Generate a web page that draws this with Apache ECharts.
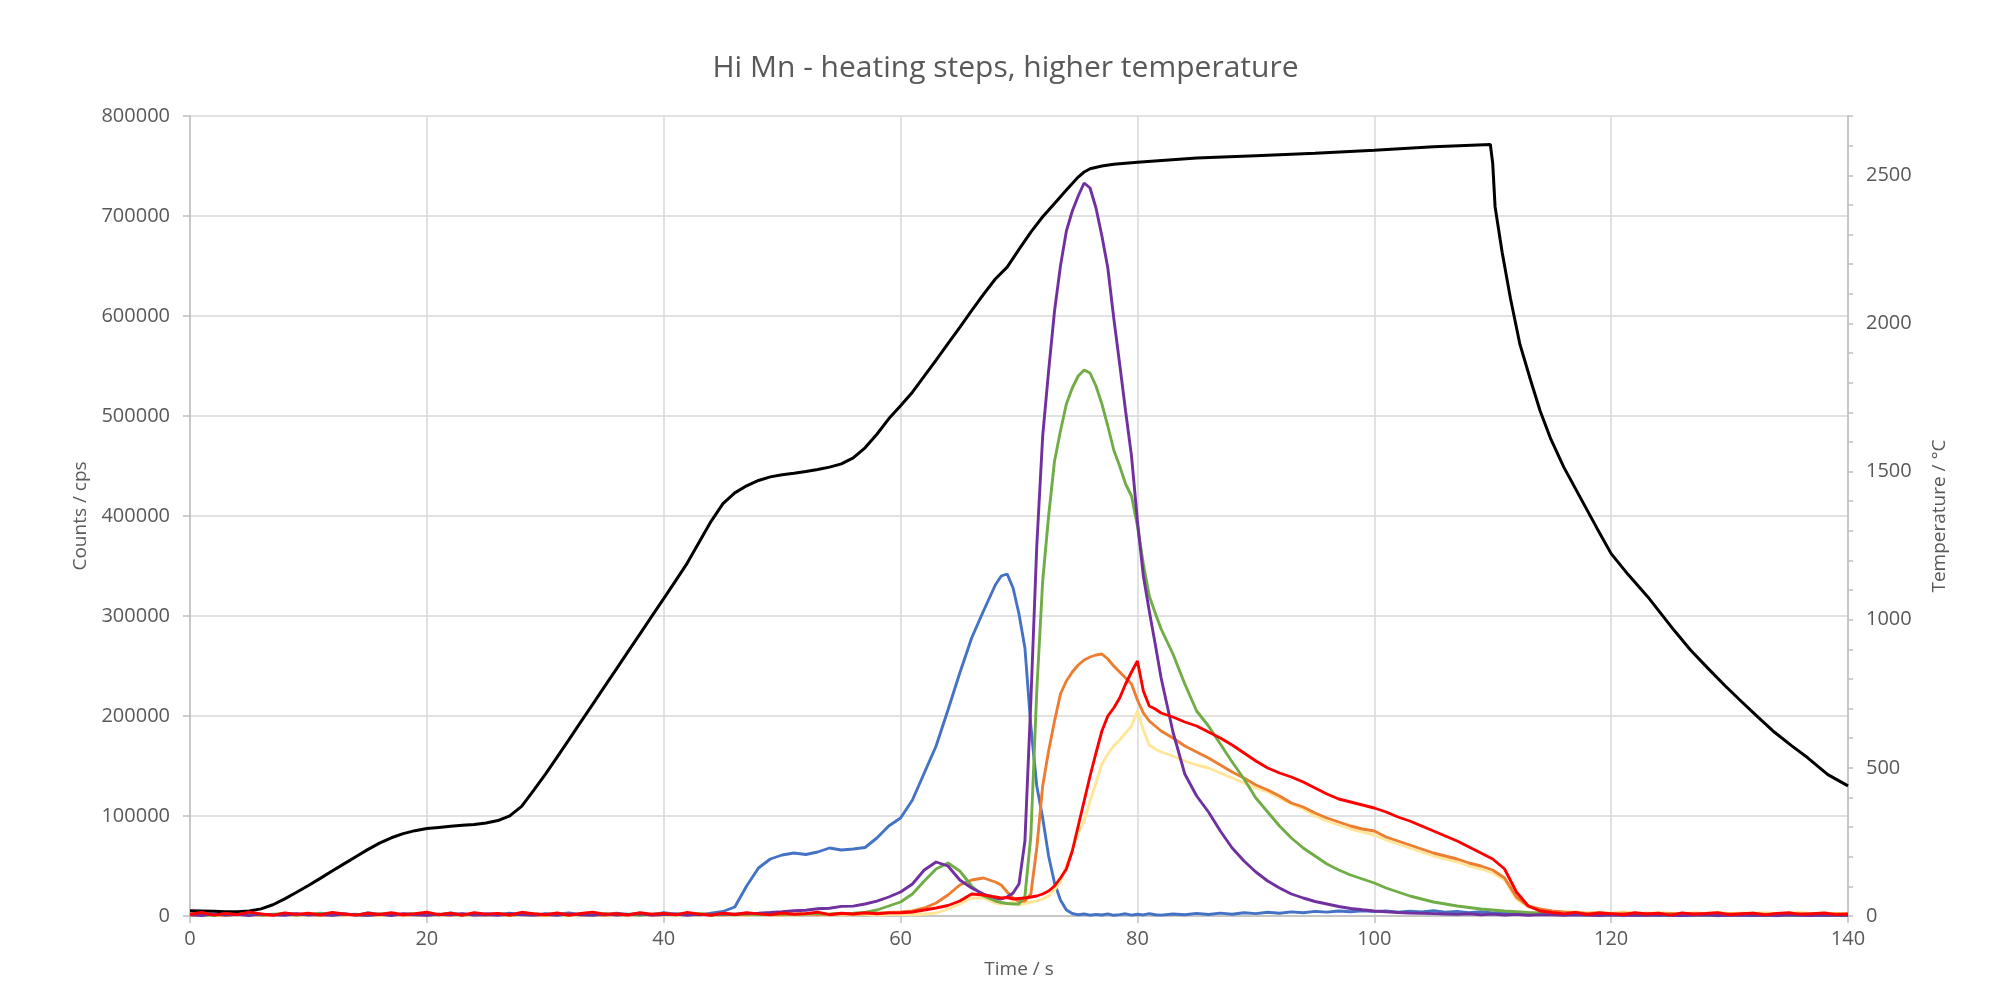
<!DOCTYPE html>
<html>
<head>
<meta charset="utf-8">
<script src="https://cdn.jsdelivr.net/npm/echarts@6/dist/echarts.min.js"></script>
<style>
html,body{margin:0;padding:0;background:#fff;}
#chart{width:2011px;height:982px;}
</style>
</head>
<body>
<div id="chart"></div>
<script>
// ---- Data ----
const chartTitle = 'Hi Mn - heating steps, higher temperature';
const xAxisName = 'Time / s';
const yAxisName = 'Counts / cps';
const y2AxisName = 'Temperature / °C';

// common time base for the count series (s)
const time_s = [0,1,2,3,4,5,6,7,8,9,10,11,12,13,14,15,16,17,18,19,20,21,22,23,24,25,26,27,28,29,30,31,32,33,34,35,36,37,38,39,40,41,42,43,44,45,46,47,48,49,50,51,52,53,54,55,56,57,58,59,60,61,62,63,64,65,66,67,
68,68.5,69,69.5,70,70.5,71,71.5,72,72.5,73,73.5,74,74.5,75,75.5,76,76.5,77,77.5,78,78.5,79,79.5,80,80.5,81,81.5,82,
83,84,85,86,87,88,89,90,91,92,93,94,95,96,97,98,99,100,101,102,103,104,105,106,107,108,109,110,111,112,113,114,115,116,117,118,119,120,121,122,123,124,125,126,127,128,129,130,131,132,133,134,135,136,137,138,139,140];

const blue = [1500,2800,900,2200,1100,3000,1400,600,2500,1800,
800,2900,1200,2000,700,3200,1500,2300,900,1700,
2600,1000,3100,1400,800,2200,1600,2900,1100,600,
2400,1800,3000,1200,2100,900,2700,1500,2000,1100,
3300,1700,2500,1000,2800,4500,9000,30000,48000,57000,
61000,63000,61500,64000,68000,66000,67000,68500,78000,90000,
98000,116000,143000,170000,206000,243000,278000,305000,
331000,340000,342000,328000,302000,268000,190000,130000,98000,60000,33000,16000,6000,2500,1200,2000,800,1600,1000,2100,700,1400,2200,900,1800,1100,2400,1300,900,
2000,1200,2600,1500,2900,1800,3200,2400,3800,2700,
4100,3300,4600,3900,5000,4200,5300,4400,5100,3900,
4800,4000,5200,3700,4500,3400,4200,3100,3800,2600,
3000,1900,2400,1300,1800,900,1500,800,1300,600,
1100,500,1000,700,1200,400,900,600,1100,500,
800,300,900,600,1000,400,700,500];

const purple = [1200,500,2100,900,1600,400,1900,1100,700,2300,
1000,1500,600,2000,1300,800,1700,500,2200,1200,
700,1800,1100,2400,900,1400,600,2000,1300,1000,
1700,800,2100,1200,600,1900,1000,1500,2200,900,
1400,2000,700,1600,1200,2300,1800,2600,2900,3500,
4200,5200,5800,7300,7800,9600,9900,12000,14800,19000,
24000,32000,46000,54000,50000,36000,28000,22000,
18000,17000,19000,23000,32000,75000,215000,370000,480000,545000,605000,650000,685000,705000,720000,733000,728000,708000,680000,648000,598000,552000,505000,460000,395000,340000,305000,272000,238000,
184000,142000,120000,104000,85000,68000,55000,44000,35000,28000,
22000,18000,14500,12000,9500,7500,6200,5000,4200,3500,
3000,2800,2400,2000,1600,2200,1300,1900,1000,1600,
800,1400,1100,700,1300,900,500,1200,800,1000,
600,1100,700,400,900,1200,500,800,1000,600,
900,400,1100,700,500,900,600,800];

const green = [2100,1300,800,1900,1500,2400,1000,1700,2200,900,
1600,2500,1100,1800,1400,800,2000,1200,1700,2300,
1000,1500,2100,800,1900,1300,2200,1000,1600,2400,
1200,1800,900,2000,1400,2300,1100,1700,800,1900,
2200,1300,1600,2400,1000,1800,1300,2100,1500,1900,
2300,1600,2000,2600,1800,2400,2900,3500,6000,10000,
14000,22000,35000,47000,53000,45000,30000,20000,
15000,13500,12500,12000,12000,20000,80000,225000,335000,400000,455000,485000,512000,528000,540000,546000,543000,530000,512000,490000,466000,450000,432000,420000,390000,352000,320000,303000,287000,
262000,232000,205000,190000,172000,154000,137000,118000,104000,90000,
78000,68000,60000,52000,46000,41000,37000,33000,28000,24000,
20000,17000,14000,12000,10000,8500,7000,6000,5000,4300,
3500,3000,2600,1500,2200,1100,1800,900,1600,1200,
700,1400,1000,1800,800,1300,600,1100,1500,900,
1200,700,1000,1400,800,1100,600,900];

const orange = [900,1800,1200,600,1500,2100,800,1300,1700,1000,
2000,700,1400,1100,1900,600,1300,2200,900,1500,
1100,1700,800,2000,1300,1000,1600,700,1900,1200,
800,1400,2100,1000,1500,700,1800,1200,2300,900,
1400,1900,1100,2200,1600,1000,1700,1300,2000,1500,
1100,1800,2200,1400,1900,2500,1600,2300,2900,3500,
4000,5000,8000,13000,21000,31000,36000,38000,
34000,31000,24000,18000,14500,15000,22000,68000,130000,165000,195000,222000,235000,244000,251000,256000,259000,261000,262000,257000,250000,244000,238000,232000,216000,203000,195000,190000,185000,
178000,170000,164000,158000,151000,144000,138000,131000,126000,120000,
113000,109000,103000,98000,94000,90000,87000,85000,79000,75000,
71000,67000,63000,60000,57000,53000,50000,46000,38000,19000,
10000,7000,5000,4000,3200,2600,3300,2400,2900,2100,
2700,1900,2500,1800,2600,2200,1700,2400,2000,2800,
1900,2300,1600,2500,2100,1800,2400,2000];

const yellow = [600,1200,400,900,1500,700,1100,500,1300,800,
1000,400,1400,700,900,1200,500,1100,800,1300,
600,1000,1400,500,900,1200,700,1500,800,1100,
500,1300,900,700,1200,1000,600,1400,800,1100,
900,1300,600,1100,1500,800,1200,700,1400,1000,
1300,800,1600,1100,900,1500,1200,1700,1000,1400,
1800,1300,2000,3000,7000,12000,18000,18000,
13000,12000,12500,13500,11000,12500,14000,15000,17000,20000,26000,34000,50000,66000,83000,95000,115000,133000,152000,162000,170000,176000,183000,190000,205000,186000,171000,167000,164000,
160000,155000,151000,148000,143000,138000,133000,128000,124000,118000,
112000,107000,100000,95000,91000,87000,84000,81000,76000,72000,
68000,64000,60000,57000,54000,50000,47000,43000,36000,17000,
9000,6000,4500,3800,4200,3000,3600,2800,4000,3100,
2500,3500,2900,2200,3300,2600,3900,2400,3000,2700,
3400,2300,2800,3600,2500,3000,2200,2700];

const red = [1800,3500,900,2600,1400,3900,2100,700,3100,1600,
2800,1100,3600,2000,900,2700,1500,3300,1200,2400,
3800,1300,2900,800,3400,1900,2600,1000,3700,2200,
1400,3000,800,2500,3900,1700,2300,1000,3200,1800,
2600,1200,3600,1900,800,2900,1500,3300,2100,1100,
3000,1700,2400,3800,1300,2700,2000,3400,2200,3100,
3300,4000,6000,8000,10500,15000,22000,21000,
19000,18000,18500,17000,17500,18000,19000,20000,22000,25000,30000,38000,47000,65000,90000,115000,140000,163000,185000,200000,208000,218000,232000,244000,255000,225000,210000,207000,203000,
199000,194000,190000,184000,178000,171000,163000,155000,148000,143000,
139000,134000,128000,122000,117000,114000,111000,108000,104000,99000,
95000,90000,85000,80000,75000,69000,63000,57000,47000,24000,
10000,5000,3500,2100,3600,1500,3000,2400,1200,3300,
2000,2800,900,3100,1700,2500,3400,1300,2200,2900,
1100,2600,3200,1600,2300,3000,1400,2000];

// temperature series (right axis)
const tempTime = [0,1,2,3,4,5,6,7,8,9,10,11,12,13,14,15,16,17,18,19,20,21,22,23,24,25,26,27,28,29,30,31,32,33,34,35,36,37,38,39,40,41,42,43,44,45,46,47,48,49,50,51,52,53,54,55,56,57,58,59,60,61,62,63,64,65,66,67,68,69,70,71,72,73,74,75,75.5,76,77,78,80,85,90,95,100,105,109.8,110,110.2,110.8,111.5,112.3,113.2,114,114.9,116,117.4,118.8,120,121.4,123.1,125.3,126.7,128.2,129.6,131,132.4,133.8,135.2,136.6,138.3,140];
const tempC = [18,17,16,14,14,17,24,38,58,80,103,127,152,176,200,224,246,264,278,288,295,299,303,306,309,314,322,338,370,423,478,536,595,655,714,774,833,893,952,1012,1071,1131,1192,1262,1332,1392,1428,1452,1470,1482,1489,1494,1500,1507,1515,1526,1546,1580,1626,1678,1722,1768,1822,1876,1932,1987,2043,2098,2150,2190,2250,2308,2360,2405,2450,2494,2511,2522,2531,2537,2544,2558,2566,2574,2584,2596,2604,2540,2394,2239,2084,1929,1808,1705,1610,1515,1412,1309,1223,1154,1077,965,898,835,778,724,671,620,576,534,477,439];

const xTicks = {min: 0, max: 140, interval: 20};
const yTicks = {min: 0, max: 800000, interval: 100000};
const y2Ticks = {min: 0, max: 2700, interval: 100, labelStep: 500};

// ---- Chart ----
const font = "'Open Sans', 'DejaVu Sans', sans-serif";
const txt = '#595959';
const axisCol = '#bfbfbf';
const gridCol = '#d9d9d9';

function pairs(xs, ys){ return xs.map((x, i) => [x, ys[i]]); }
function countSeries(name, color, values){
  return {name, type:'line', data: pairs(time_s, values), yAxisIndex:0,
    showSymbol:false, symbol:'none', lineStyle:{color, width:2.9}, itemStyle:{color}, clip:true};
}

const chart = echarts.init(document.getElementById('chart'), null, {renderer:'canvas'});
chart.setOption({
  animation:false,
  backgroundColor:'#ffffff',
  title:{text: chartTitle, left:'center', top:48,
    textStyle:{fontFamily:font, fontSize:30, fontWeight:'normal', color:txt}},
  grid:{left:190, right:163, top:116, bottom:66, containLabel:false, outerBoundsMode:'none'},
  xAxis:{type:'value', min:xTicks.min, max:xTicks.max, interval:xTicks.interval,
    name:xAxisName, nameLocation:'middle', nameGap:44,
    nameTextStyle:{fontFamily:font, fontSize:19, color:txt},
    axisLine:{show:true, lineStyle:{color:axisCol, width:1.5}},
    axisTick:{show:true, length:7, lineStyle:{color:axisCol, width:1.5}},
    axisLabel:{fontFamily:font, fontSize:20, color:txt, margin:13},
    splitLine:{show:true, lineStyle:{color:gridCol, width:1.5}}},
  yAxis:[
    {type:'value', min:yTicks.min, max:yTicks.max, interval:yTicks.interval, position:'left',
      name:yAxisName, nameLocation:'middle', nameGap:100,
      nameTextStyle:{fontFamily:font, fontSize:19, color:txt},
      axisLine:{show:true, lineStyle:{color:axisCol, width:1.5}},
      axisTick:{show:true, length:7, lineStyle:{color:axisCol, width:1.5}},
      axisLabel:{fontFamily:font, fontSize:20, color:txt, margin:20, formatter:v => String(v)},
      splitLine:{show:true, lineStyle:{color:gridCol, width:1.5}}},
    {type:'value', min:y2Ticks.min, max:y2Ticks.max, interval:y2Ticks.interval, position:'right',
      name:y2AxisName, nameLocation:'middle', nameGap:82,
      nameTextStyle:{fontFamily:font, fontSize:19, color:txt},
      axisLine:{show:true, lineStyle:{color:axisCol, width:1.5}},
      axisTick:{show:true, length:5, lineStyle:{color:axisCol, width:1.5}},
      axisLabel:{fontFamily:font, fontSize:20, color:txt, margin:18,
        formatter:v => (v % y2Ticks.labelStep === 0 ? String(v) : '')},
      splitLine:{show:false}}
  ],
  series:[
    {name:'Temperature', type:'line', data: pairs(tempTime, tempC), yAxisIndex:1,
      showSymbol:false, symbol:'none', lineStyle:{color:'#000000', width:3}, itemStyle:{color:'#000000'}},
    countSeries('Blue', '#4472C4', blue),
    countSeries('Yellow', '#FFE699', yellow),
    countSeries('Orange', '#ED7D31', orange),
    countSeries('Green', '#70AD47', green),
    countSeries('Purple', '#7030A0', purple),
    countSeries('Red', '#FF0000', red)
  ]
});
</script>
</body>
</html>
